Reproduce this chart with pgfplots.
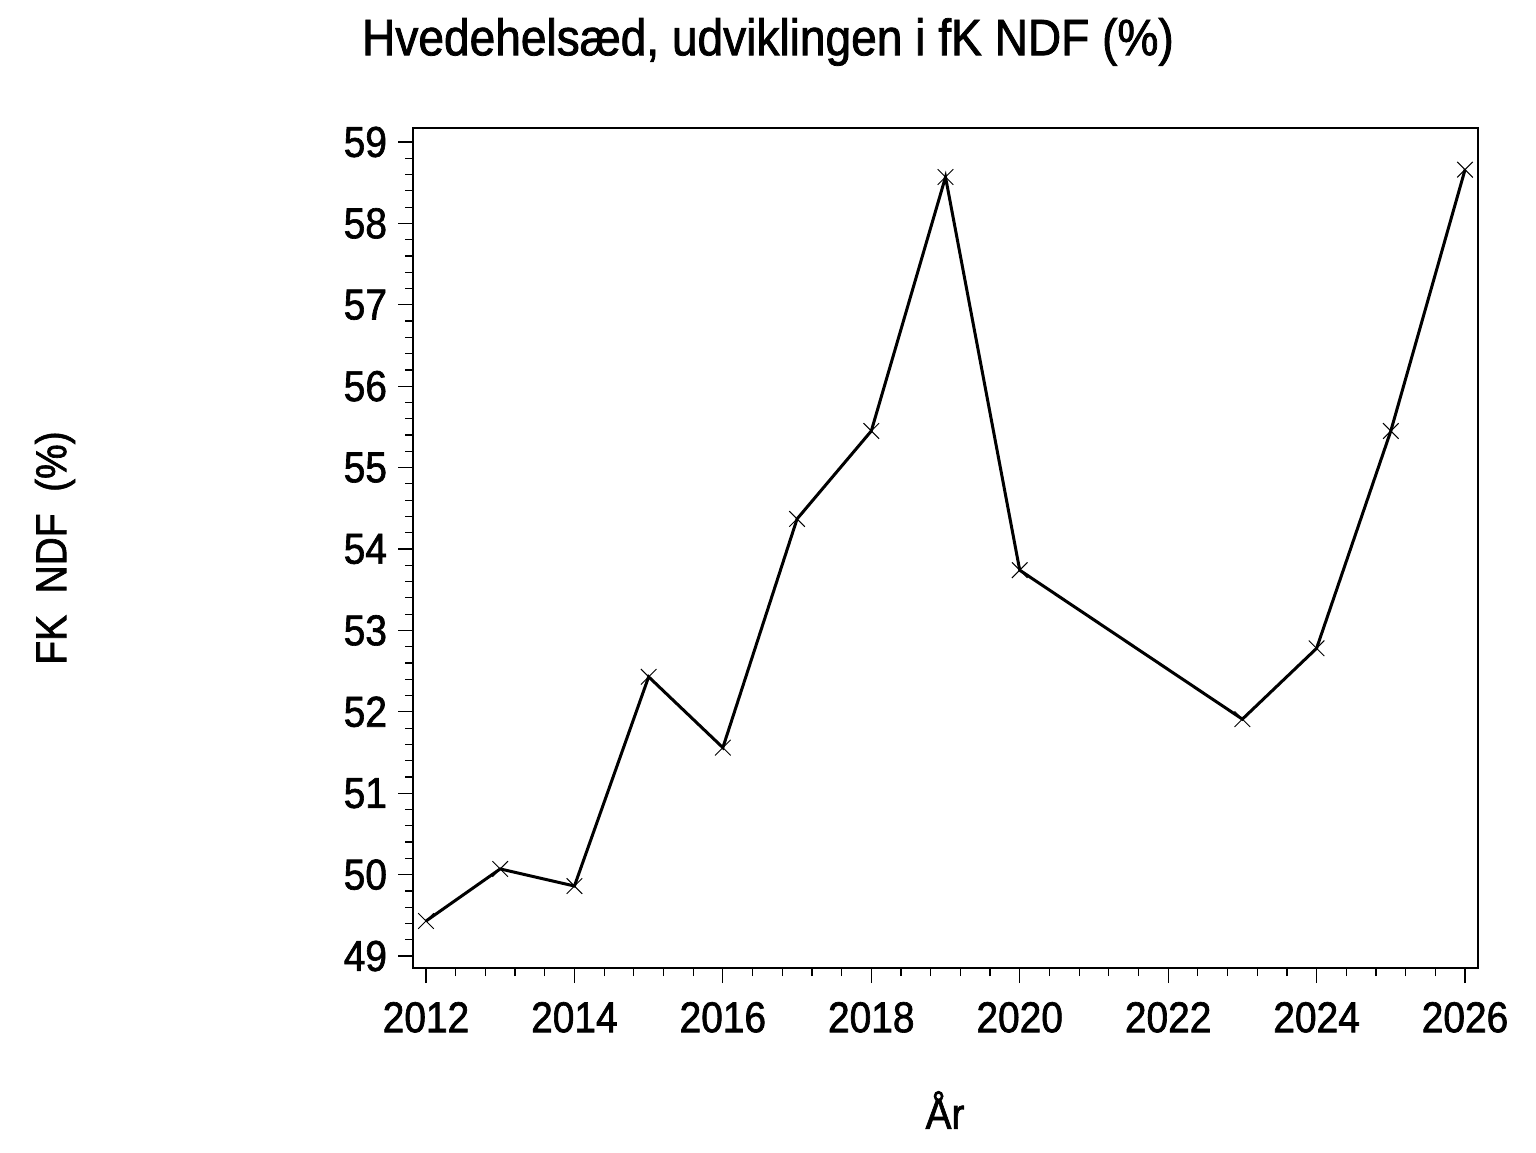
\documentclass[border=0pt]{standalone}
\usepackage{fontspec}
\setmainfont{Liberation Sans}[FakeStretch=0.9, FakeBold=1.5]
\usepackage{pgfplots}
\pgfplotsset{compat=1.18}
\begin{document}
\begin{tikzpicture}
\path[use as bounding box] (0,0) rectangle (768pt,576pt);
\begin{axis}[
  scale only axis,
  width=532.5pt, height=420pt,
  at={(206.5pt,92pt)}, anchor=south west,
  xmin=2011.825, xmax=2026.175,
  ymin=48.853, ymax=59.172,
  xtick={2012,2014,...,2026},
  ytick={49,50,...,59},
  minor xtick={2012.4,2012.8,...,2026},
  minor ytick={49,49.2,...,59.1},
  tick align=outside,
  xtick pos=bottom, ytick pos=left,
  major tick length=7.5pt,
  minor tick length=4pt,
  tick style={black, line width=0.6pt},
  minor tick style={black, line width=0.6pt},
  axis line style={line width=0.6pt},
  /pgf/number format/assume math mode=true,
  /pgf/number format/1000 sep={},
  ticklabel style={font=\fontsize{21.6}{24}\selectfont},
  xticklabel style={yshift=-6pt},
  yticklabel style={xshift=-2pt},
]
\addplot[black, line width=1.5pt, mark=x, mark size=5.5pt, mark options={line width=0.5pt}] coordinates {
(2012,49.43) (2013,50.07) (2014,49.86) (2015,52.43) (2016,51.56) (2017,54.37)
(2018,55.45) (2019,58.57) (2020,53.74) (2023,51.91) (2024,52.78) (2025,55.45) (2026,58.66)
};
\end{axis}
\node[font=\fontsize{25.6}{28}\selectfont] at (384pt,555pt) {Hvedehelsæd, udviklingen i fK NDF (\%)};
\node[font=\fontsize{21.6}{24}\selectfont] at (472.5pt,21pt) {År};
\node[font=\fontsize{21.6}{24}\selectfont, rotate=90] at (27.5pt,302pt) {FK\ \ NDF\ \ (\%)};
\end{tikzpicture}
\end{document}
